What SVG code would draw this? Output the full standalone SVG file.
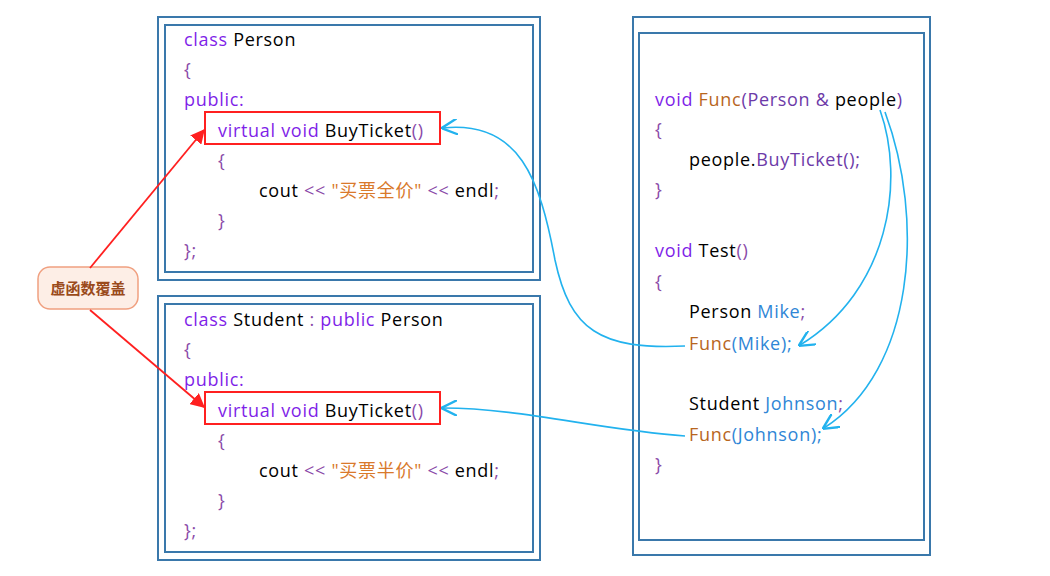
<svg xmlns="http://www.w3.org/2000/svg" width="1050" height="576" viewBox="0 0 1050 576">
<defs>
<style>
text{font-family:"Open Sans","Noto Sans CJK SC",sans-serif;font-size:18px;letter-spacing:0.7px;fill:#000}
.k{fill:#7f1fe8}.p{fill:#8a4aa8}.s{fill:#d9792b}.f{fill:#b8661e}.v{fill:#2f86d6}.m{fill:#6d3aa8}
.box{fill:none;stroke:#3a78ab;stroke-width:2}
.red{fill:none;stroke:#ff2020;stroke-width:2}
.rl{stroke:#ff2020;stroke-width:1.8;fill:none;marker-end:url(#ra)}
.bl{stroke:#22b2ee;stroke-width:1.6;fill:none;marker-end:url(#ba)}
</style>
<marker id="ra" viewBox="0 0 10 10" refX="9" refY="5" markerWidth="8" markerHeight="8" orient="auto"><path d="M0,0L10,5L0,10z" fill="#ff2020"/></marker>
<marker id="ba" viewBox="0 0 10 10" refX="9" refY="5" markerWidth="10" markerHeight="10" orient="auto"><path d="M0,0L10,5L0,10" fill="none" stroke="#22b2ee" stroke-width="1.5"/></marker>
</defs>
<rect width="1050" height="576" fill="#fff"/>
<g id="person">
<rect class="box" x="158" y="17" width="382" height="263"/>
<rect class="box" x="165" y="25" width="368" height="247"/>
<text x="184" y="46"><tspan class="k">class</tspan> Person</text>
<text x="184" y="76" class="p">{</text>
<text x="184" y="106" class="k">public:</text>
<rect class="red" x="205" y="112" width="235" height="32"/>
<text x="218" y="137"><tspan class="k">virtual void</tspan> BuyTicket<tspan class="p">()</tspan></text>
<text x="218" y="167" class="p">{</text>
<text x="259" y="197">cout <tspan class="p">&lt;&lt;</tspan> <tspan class="s">"买票全价"</tspan> <tspan class="p">&lt;&lt;</tspan> endl<tspan class="p">;</tspan></text>
<text x="218" y="227" class="p">}</text>
<text x="184" y="257" class="p">};</text>
</g>
<g id="student">
<rect class="box" x="158" y="296" width="382" height="264"/>
<rect class="box" x="165" y="304" width="368" height="248"/>
<text x="184" y="326"><tspan class="k">class</tspan> Student <tspan class="p">:</tspan> <tspan class="k">public</tspan> Person</text>
<text x="184" y="356" class="p">{</text>
<text x="184" y="386" class="k">public:</text>
<rect class="red" x="205" y="392" width="235" height="32"/>
<text x="218" y="417"><tspan class="k">virtual void</tspan> BuyTicket<tspan class="p">()</tspan></text>
<text x="218" y="447" class="p">{</text>
<text x="259" y="477">cout <tspan class="p">&lt;&lt;</tspan> <tspan class="s">"买票半价"</tspan> <tspan class="p">&lt;&lt;</tspan> endl<tspan class="p">;</tspan></text>
<text x="218" y="507" class="p">}</text>
<text x="184" y="537" class="p">};</text>
</g>
<g id="func">
<rect class="box" x="633" y="17" width="297" height="538"/>
<rect class="box" x="639" y="33" width="285" height="507"/>
<text x="655" y="106"><tspan class="k">void</tspan> <tspan class="f">Func</tspan><tspan class="m">(Person &amp;</tspan> people<tspan class="m">)</tspan></text>
<text x="655" y="136" class="p">{</text>
<text x="689" y="166">people.<tspan class="m">BuyTicket();</tspan></text>
<text x="655" y="196" class="p">}</text>
<text x="655" y="257"><tspan class="k">void</tspan> Test<tspan class="p">()</tspan></text>
<text x="655" y="288" class="p">{</text>
<text x="689" y="318">Person <tspan class="v">Mike</tspan><tspan class="p">;</tspan></text>
<text x="689" y="350"><tspan class="f">Func</tspan><tspan class="v">(Mike);</tspan></text>
<text x="689" y="410">Student <tspan class="v">Johnson</tspan><tspan class="p">;</tspan></text>
<text x="689" y="441"><tspan class="f">Func</tspan><tspan class="v">(Johnson);</tspan></text>
<text x="655" y="471" class="p">}</text>
</g>
<g id="label">
<rect x="38" y="267" width="100" height="42" rx="12" fill="#fdeee6" stroke="#f0a080" stroke-width="1.5"/>
<text x="88" y="294" text-anchor="middle" style="font-size:15px;letter-spacing:0;font-weight:bold;fill:#9a4a1a">虚函数覆盖</text>
</g>
<g id="connectors">
<path class="rl" d="M90,268L204,130"/>
<path class="rl" d="M90,310L204,407"/>
<path class="bl" d="M685,346C600,350 570,330 555,260C540,180 520,120 443,128"/>
<path class="bl" d="M685,436C600,430 520,408 443,408"/>
<path class="bl" d="M880,110C905,180 890,290 800,345"/>
<path class="bl" d="M885,112C925,220 915,370 824,428"/>
</g>
</svg>
